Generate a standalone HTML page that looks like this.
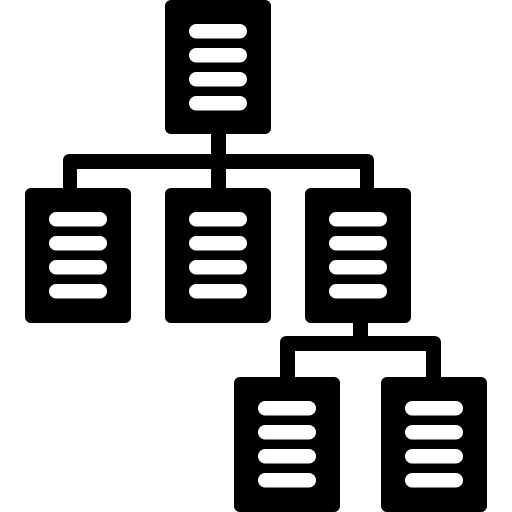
<!DOCTYPE html>
<html><head><meta charset="utf-8"><style>html,body{margin:0;padding:0;background:#fff;width:512px;height:512px;overflow:hidden}</style></head>
<body>
<svg width="512" height="512" viewBox="0 0 512 512" xmlns="http://www.w3.org/2000/svg">
<g fill="#000">
<!-- connectors -->
<rect x="211" y="130" width="15" height="60"/>
<path d="M63,190 V161 Q63,154 70,154 H367 Q374,154 374,161 V190 H360 V169 H77 V190 Z"/>
<rect x="353" y="320" width="15" height="20"/>
<path d="M280,380 V343 Q280,336 287,336 H434 Q441,336 441,343 V380 H426 V351 H295 V380 Z"/>
<!-- boxes -->
<rect x="165" y="0" width="106" height="134" rx="6"/>
<rect x="25" y="188" width="106" height="135" rx="6"/>
<rect x="165" y="188" width="106" height="135" rx="6"/>
<rect x="305" y="188" width="106" height="135" rx="6"/>
<rect x="234" y="377" width="106" height="135" rx="6"/>
<rect x="381" y="377" width="106" height="135" rx="6"/>
</g>
<g fill="#fff">
<rect x="189" y="24" width="58" height="14.5" rx="7.25"/>
<rect x="189" y="48" width="58" height="14.5" rx="7.25"/>
<rect x="189" y="72" width="58" height="14.5" rx="7.25"/>
<rect x="189" y="96" width="58" height="14.5" rx="7.25"/>

<rect x="49" y="212" width="58" height="14.5" rx="7.25"/>
<rect x="49" y="236" width="58" height="14.5" rx="7.25"/>
<rect x="49" y="260" width="58" height="14.5" rx="7.25"/>
<rect x="49" y="284" width="58" height="14.5" rx="7.25"/>

<rect x="189" y="212" width="58" height="14.5" rx="7.25"/>
<rect x="189" y="236" width="58" height="14.5" rx="7.25"/>
<rect x="189" y="260" width="58" height="14.5" rx="7.25"/>
<rect x="189" y="284" width="58" height="14.5" rx="7.25"/>

<rect x="329" y="212" width="58" height="14.5" rx="7.25"/>
<rect x="329" y="236" width="58" height="14.5" rx="7.25"/>
<rect x="329" y="260" width="58" height="14.5" rx="7.25"/>
<rect x="329" y="284" width="58" height="14.5" rx="7.25"/>

<rect x="258" y="401" width="58" height="14.5" rx="7.25"/>
<rect x="258" y="425" width="58" height="14.5" rx="7.25"/>
<rect x="258" y="449" width="58" height="14.5" rx="7.25"/>
<rect x="258" y="473" width="58" height="14.5" rx="7.25"/>

<rect x="405" y="401" width="58" height="14.5" rx="7.25"/>
<rect x="405" y="425" width="58" height="14.5" rx="7.25"/>
<rect x="405" y="449" width="58" height="14.5" rx="7.25"/>
<rect x="405" y="473" width="58" height="14.5" rx="7.25"/>
</g>
</svg>
</body></html>
